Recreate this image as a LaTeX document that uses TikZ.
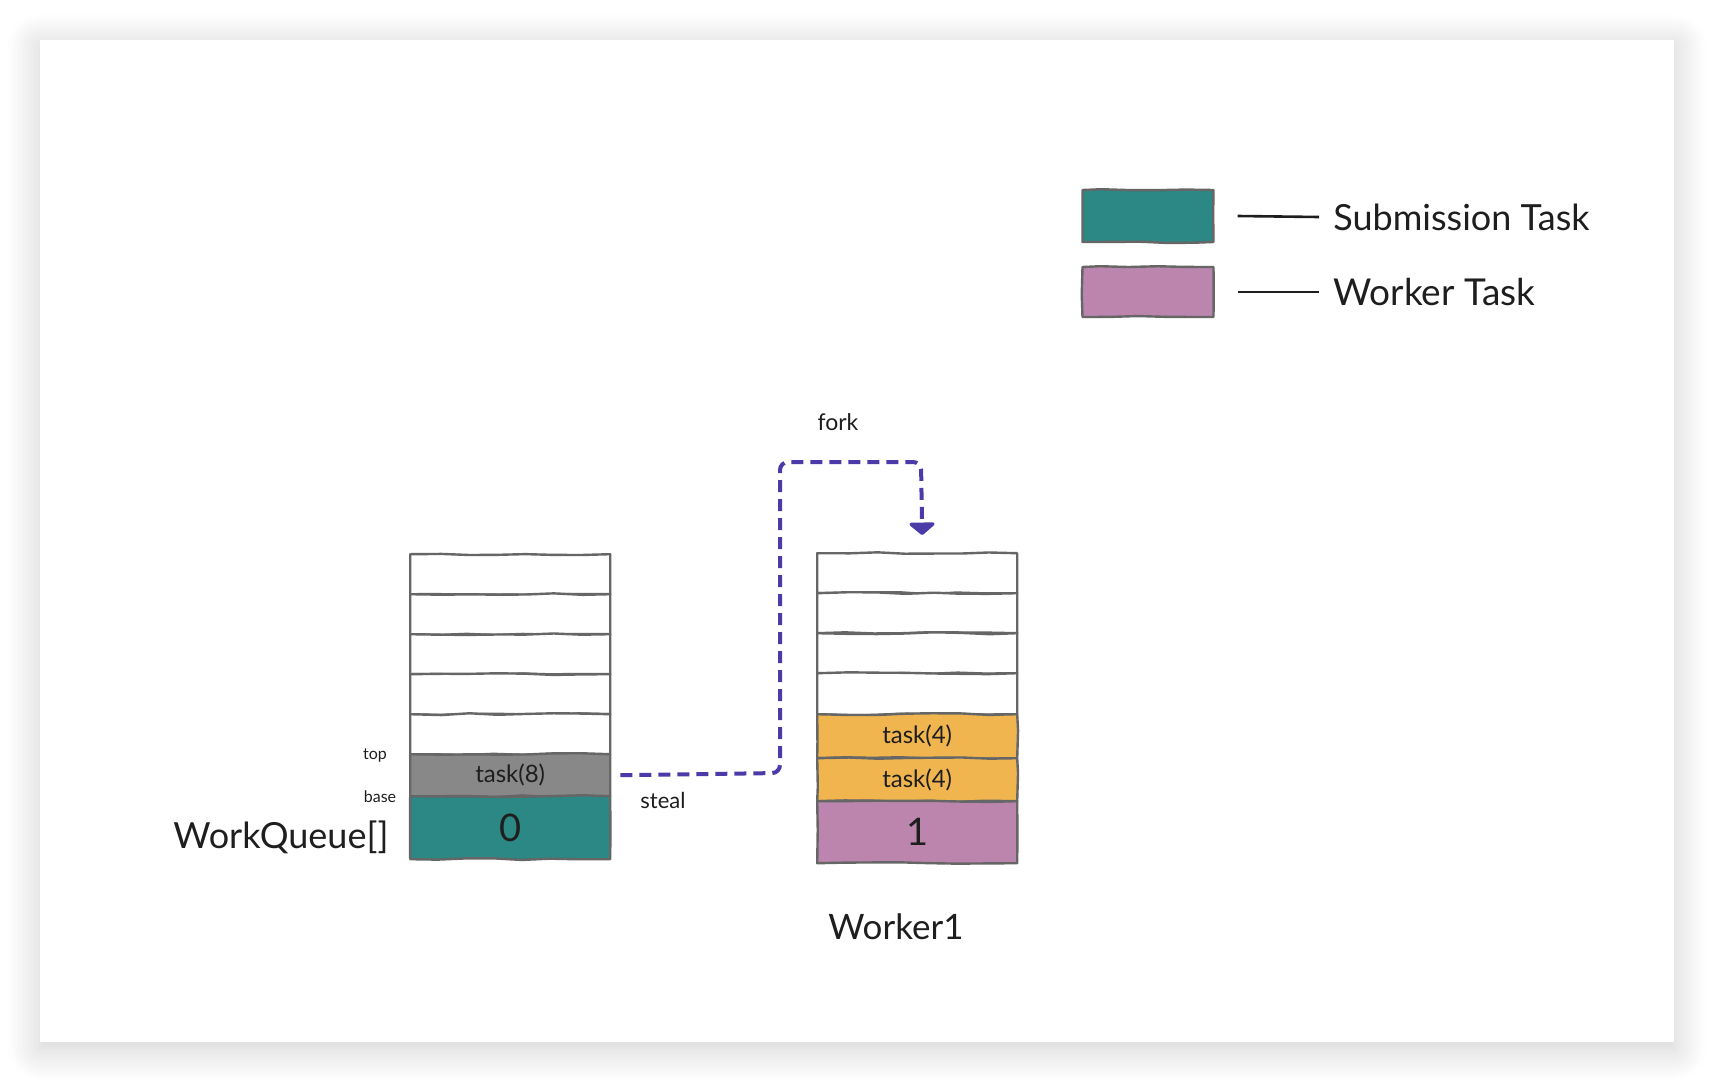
\documentclass[tikz,border=0pt]{standalone}
\usepackage{fontspec}
\setmainfont{Lato}
\usetikzlibrary{arrows.meta,shadows.blur,calc,decorations.pathmorphing}

\definecolor{ink}{HTML}{1E1E1E}
\definecolor{cellline}{HTML}{666666}
\definecolor{subteal}{HTML}{2B8884}
\definecolor{workpurple}{HTML}{BC85AE}
\definecolor{forkorange}{HTML}{F0B54F}
\definecolor{taskgray}{HTML}{888888}
\definecolor{flow}{HTML}{4B3BA8}

\begin{document}
\begin{tikzpicture}[x=0.5pt,y=-0.5pt,
  sketchy/.style={decorate, decoration={random steps, segment length=14pt, amplitude=0.5pt}},
  cell/.style={draw=cellline, line width=1.2pt, line join=round, minimum width=100pt, inner sep=0pt,
               anchor=north west, text=ink, fill=white, sketchy},
  legbox/.style={draw=cellline, line width=1.2pt, line join=round, minimum width=65.5pt, inner sep=0pt, sketchy},
  label/.style={text=ink, inner sep=0pt},
  flowline/.style={draw=flow, line width=2pt, dash pattern=on 6pt off 3.5pt,
                   rounded corners=4pt},
  legline/.style={draw=ink, line width=1.3pt}]

\pgfmathsetseed{11}
\useasboundingbox (0,0) rectangle (1714,1082);

% card with soft shadow
\path[fill=white, blur shadow={shadow xshift=0pt, shadow yshift=-3pt,
      shadow blur radius=16pt, shadow opacity=20, shadow blur steps=16}]
  (40,40) rectangle (1674,1042);

% ---- work queue 0 ----
\node[cell, minimum height=20pt] (l1) at (409,553) {};
\node[cell, minimum height=20pt] (l2) at (409,593) {};
\node[cell, minimum height=20pt] (l3) at (409,633) {};
\node[cell, minimum height=20pt] (l4) at (409,673) {};
\node[cell, minimum height=20pt] (l5) at (409,713) {};
\node[cell, fill=taskgray, minimum height=21pt, font=\fontsize{12}{14}\selectfont] (l6) at (409,753) {task(8)};
\node[cell, fill=subteal, minimum height=31.5pt, font=\fontsize{19}{22}\selectfont] (l7) at (409,795) {0};

\node[label, font=\fontsize{8}{10}\selectfont] (top) at (375,755) {top};
\node[label, font=\fontsize{8}{10}\selectfont] (base) at (380,797) {base};
\node[label, font=\fontsize{18}{22}\selectfont] (wq) at (281,837) {WorkQueue[]};

% ---- worker queue 1 ----
\node[cell, minimum height=20pt] (r1) at (816,552) {};
\node[cell, minimum height=20pt] (r2) at (816,592) {};
\node[cell, minimum height=20pt] (r3) at (816,632) {};
\node[cell, minimum height=20.5pt] (r4) at (816,672) {};
\node[cell, fill=forkorange, minimum height=22pt, font=\fontsize{12}{14}\selectfont] (r5) at (816,713) {task(4)};
\node[cell, fill=forkorange, minimum height=21.5pt, font=\fontsize{12}{14}\selectfont] (r6) at (816,757) {task(4)};
\node[cell, fill=workpurple, minimum height=31pt, font=\fontsize{19}{22}\selectfont] (r7) at (816,800) {1};

\node[label, font=\fontsize{17.5}{20}\selectfont] (worker) at (896,927) {Worker1};

% ---- steal / fork path ----
\coordinate (bendlow) at (780,773);
\coordinate (bendhigh) at (780,462);
\coordinate (bendright) at (921,462);
\draw[flowline, -{Triangle[width=15pt,length=6.5pt,round]}]
  ($(l6.east)+(9,0)$) -- (bendlow) -- (bendhigh) -- (bendright) -- ($(r1.north)+(5,-17)$);

\node[label, font=\fontsize{11}{13}\selectfont] (steal) at (663,800) {steal};
\node[label, font=\fontsize{11.5}{13}\selectfont] (fork) at (838,422) {fork};

% ---- legend ----
\node[legbox, fill=subteal, minimum height=26pt] (legsub) at (1148,216) {};
\node[legbox, fill=workpurple, minimum height=25pt] (legwork) at (1148,292) {};
\node[label, anchor=west, font=\fontsize{18}{21}\selectfont] (subtxt) at (1333,217) {Submission Task};
\node[label, anchor=west, font=\fontsize{18.5}{21}\selectfont] (worktxt) at (1333,292) {Worker Task};
\draw[legline] ($(legsub.east)+(23,0)$) -- ($(subtxt.west)+(-14,0)$);
\draw[legline] ($(legwork.east)+(23,0)$) -- ($(worktxt.west)+(-14,0)$);

\end{tikzpicture}
\end{document}
